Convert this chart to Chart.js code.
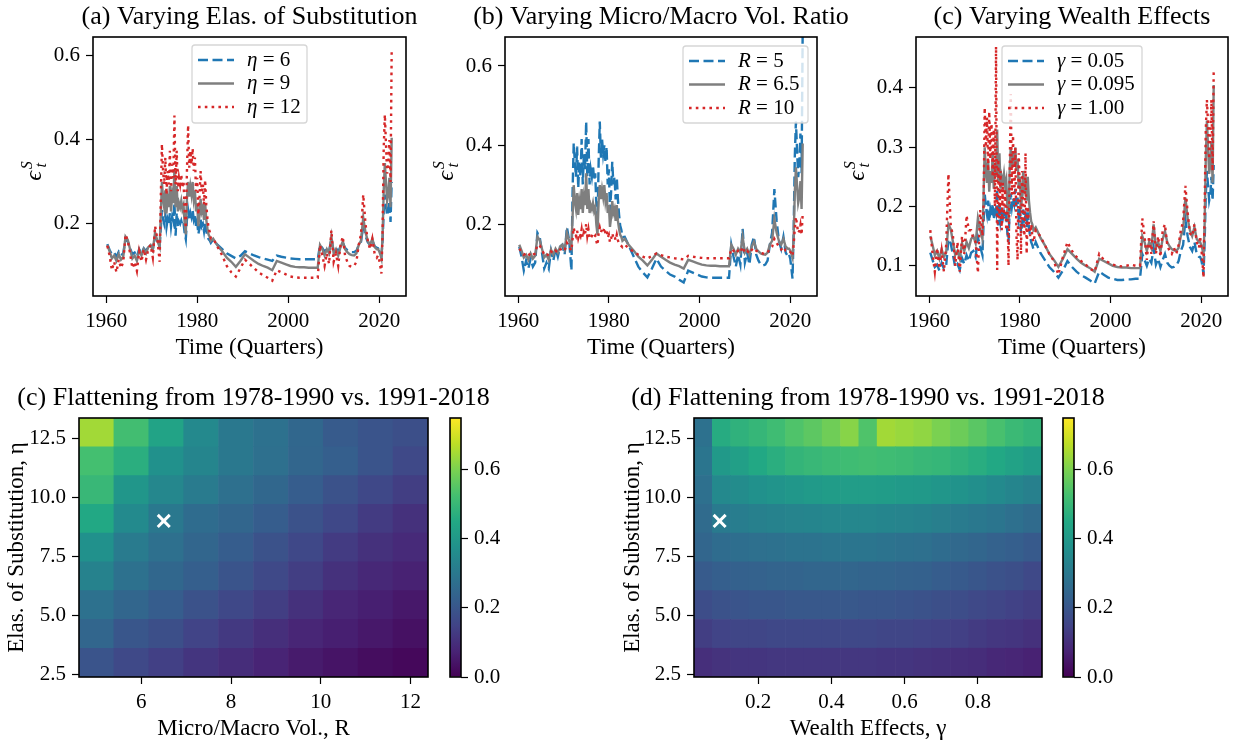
<!DOCTYPE html>
<html>
<head>
<meta charset="utf-8">
<script src="https://cdn.jsdelivr.net/npm/chart.js@4.4.1/dist/chart.umd.min.js"></script>
<style>
  body { margin: 0; background: #fff; }
  #wrap { position: relative; width: 1233px; height: 744px; }
  canvas { position: absolute; left: 0; top: 0; }
</style>
</head>
<body>
<div id="wrap">
  <canvas id="lineA" width="1233" height="744"></canvas>
  <canvas id="lineB" width="1233" height="744"></canvas>
  <canvas id="lineC" width="1233" height="744"></canvas>
  <canvas id="heatR" width="1233" height="744"></canvas>
  <canvas id="heatG" width="1233" height="744"></canvas>
  <canvas id="barR" width="1233" height="744"></canvas>
  <canvas id="barG" width="1233" height="744"></canvas>
</div>
<script>
// quarters used for the time series (denser where the series move a lot)
const years = [
  1960.25, 1960.75, 1961.25, 1961.75, 1962.25, 1962.75, 1963.25, 1963.75, 1964.25, 1964.75, 1965.25, 1965.75,
  1966.25, 1966.75, 1967.25, 1967.75, 1968.25, 1968.75, 1969.25, 1969.75, 1970.25, 1970.75, 1971.25, 1971.75,
  1972, 1972.25, 1972.5, 1972.75, 1973, 1973.25, 1973.5, 1973.75, 1974, 1974.25, 1974.5, 1974.75,
  1975, 1975.25, 1975.5, 1975.75, 1976, 1976.25, 1976.5, 1976.75, 1977, 1977.25, 1977.5, 1977.75,
  1978, 1978.25, 1978.5, 1978.75, 1979, 1979.25, 1979.5, 1979.75, 1980, 1980.25, 1980.5, 1980.75,
  1981, 1981.25, 1981.5, 1981.75, 1982, 1982.25, 1982.5, 1982.75, 1983,
  1983.5, 1984.5, 1985.5, 1986.5, 1987.5, 1988.5, 1989.5, 1990.5, 1991.5, 1992.5, 1993.5, 1994.5,
  1995.5, 1996.5, 1997.5, 1998.5, 1999.5, 2000.5, 2001.5, 2002.5, 2003.5, 2004.5, 2005.5, 2006.5,
  2007, 2007.5, 2008, 2008.5, 2009, 2009.5, 2010, 2010.5, 2011, 2011.5, 2012, 2012.5, 2013,
  2013.5, 2014, 2014.5, 2015, 2015.5, 2016, 2016.5, 2017, 2017.5, 2018, 2018.5, 2019, 2019.5,
  2019.75, 2020, 2020.25, 2020.5, 2020.75, 2021, 2021.25, 2021.5, 2021.75, 2022, 2022.25, 2022.5, 2022.75
];

// baseline (eta = 9, R = 6.5, gamma = 0.095)
const epsBase = [
  .150, .135, .118, .125, .112, .128, .115, .122, .170, .162, .140, .118, .125, .112, .138, .125, .140, .130, .145, .150, .138, .180, .160, .145,
  .220, .300, .260, .240, .280, .225, .260, .240, .290, .230, .270, .250, .330, .240, .290, .230, .250, .240, .255, .235, .245, .200, .175, .260, .300, .265, .290, .270, .300, .260, .280, .230, .250, .195, .220, .260, .230, .240, .210, .250, .210, .190, .175, .170, .160,
  .165, .148, .135, .120, .110, .098, .112, .128, .120, .112, .105, .100, .096, .090, .112, .108, .104, .100, .098, .097, .097, .096, .096, .096,
  .150, .140, .125, .140, .130, .170, .130, .140, .125, .145, .158, .140, .133, .128, .126, .125, .130, .150, .160, .215, .180, .160, .150, .165, .145, .140,
  .140, .135, .128, .118, .170, .280, .345, .300, .255, .270, .310, .240, .405
];
const epsEta6 = [
  .152, .138, .128, .132, .122, .134, .125, .130, .165, .158, .142, .128, .132, .122, .140, .130, .142, .135, .147, .150, .140, .172, .155, .147,
  .189, .233, .211, .200, .222, .192, .211, .200, .226, .194, .217, .206, .250, .172, .227, .194, .206, .200, .208, .197, .202, .178, .164, .211, .233, .213, .227, .216, .233, .211, .222, .194, .206, .176, .189, .211, .194, .200, .183, .206, .183, .172, .164, .161, .155,
  .163, .150, .140, .130, .124, .118, .124, .135, .130, .125, .121, .118, .115, .112, .125, .122, .120, .118, .117, .116, .116, .116, .116, .116,
  .150, .143, .133, .143, .136, .164, .136, .143, .133, .147, .156, .143, .138, .135, .133, .133, .136, .150, .157, .196, .171, .157, .150, .160, .147, .143,
  .142, .138, .132, .125, .160, .230, .270, .245, .220, .230, .255, .205, .300
];
const epsEta12 = [
  .148, .125, .090, .110, .085, .115, .095, .110, .175, .160, .130, .095, .110, .088, .135, .110, .140, .115, .140, .150, .120, .195, .165, .110,
  .262, .390, .326, .294, .358, .270, .326, .294, .374, .278, .342, .310, .458, .294, .374, .278, .310, .294, .318, .286, .302, .230, .190, .326, .435, .334, .374, .342, .380, .326, .358, .278, .310, .222, .262, .326, .278, .294, .246, .305, .246, .214, .190, .182, .166,
  .166, .145, .125, .100, .085, .075, .095, .115, .105, .095, .085, .078, .072, .065, .090, .085, .080, .075, .073, .072, .072, .072, .072, .072,
  .150, .125, .100, .130, .105, .185, .110, .130, .100, .150, .170, .125, .110, .100, .098, .100, .110, .150, .175, .270, .200, .160, .140, .165, .130, .120,
  .125, .115, .100, .082, .180, .380, .460, .390, .320, .340, .400, .300, .610
];
const epsR5 = [
  .145, .120, .085, .110, .090, .115, .095, .105, .180, .170, .130, .090, .105, .090, .135, .110, .140, .120, .145, .150, .125, .195, .160, .085,
  .283, .405, .359, .321, .397, .293, .359, .321, .416, .302, .378, .340, .460, .321, .416, .302, .340, .321, .350, .312, .330, .245, .198, .359, .460, .369, .416, .378, .400, .359, .397, .302, .340, .236, .283, .359, .302, .321, .264, .320, .264, .226, .198, .188, .169,
  .170, .145, .120, .095, .080, .068, .090, .115, .095, .085, .075, .070, .062, .055, .085, .080, .075, .070, .068, .067, .067, .067, .067, .067,
  .150, .120, .095, .125, .100, .190, .105, .130, .100, .150, .170, .125, .110, .100, .098, .100, .110, .150, .180, .290, .210, .160, .140, .170, .130, .120,
  .125, .115, .090, .065, .180, .370, .460, .390, .320, .350, .430, .330, .700
];
const epsR10 = [
  .140, .132, .125, .128, .122, .130, .125, .128, .150, .148, .138, .125, .128, .122, .133, .128, .135, .130, .138, .140, .135, .155, .145, .135,
  .165, .193, .179, .172, .186, .167, .179, .172, .189, .168, .182, .175, .203, .172, .189, .168, .175, .172, .177, .170, .173, .158, .149, .179, .193, .181, .189, .182, .193, .179, .186, .168, .175, .156, .165, .179, .168, .172, .161, .175, .161, .154, .149, .147, .144,
  .150, .140, .132, .125, .120, .115, .122, .128, .124, .120, .118, .116, .115, .113, .122, .120, .118, .117, .116, .116, .116, .116, .116, .116,
  .140, .135, .128, .135, .130, .145, .130, .135, .128, .137, .142, .135, .132, .130, .128, .127, .130, .140, .145, .165, .155, .145, .138, .145, .135, .133,
  .135, .132, .128, .122, .150, .190, .220, .200, .180, .185, .200, .175, .230
];
const epsG005 = [
  .122, .110, .098, .102, .092, .105, .095, .100, .145, .138, .118, .098, .103, .093, .113, .103, .118, .108, .122, .125, .115, .148, .132, .118,
  .172, .222, .200, .187, .210, .175, .195, .185, .205, .178, .200, .190, .230, .168, .205, .175, .188, .180, .190, .178, .185, .155, .140, .195, .222, .200, .215, .205, .230, .200, .215, .180, .192, .155, .170, .195, .178, .185, .165, .190, .165, .150, .140, .135, .128,
  .140, .122, .110, .098, .090, .080, .092, .108, .098, .090, .084, .080, .075, .070, .090, .085, .080, .078, .076, .076, .077, .077, .078, .078,
  .120, .110, .100, .112, .105, .130, .102, .112, .098, .110, .120, .105, .100, .097, .098, .100, .108, .125, .135, .178, .150, .132, .125, .140, .120, .115,
  .115, .110, .100, .085, .140, .220, .260, .235, .210, .220, .250, .210, .270
];
const epsG1 = [
  .160, .120, .090, .130, .095, .125, .090, .135, .255, .170, .150, .100, .140, .090, .150, .120, .185, .160, .160, .145, .140, .088, .194, .150,
  .200, .367, .300, .350, .260, .360, .280, .340, .250, .330, .200, .470, .093, .280, .180, .260, .160, .240, .180, .230, .160, .200, .100, .250, .390, .220, .320, .200, .300, .150, .110, .290, .230, .120, .260, .200, .150, .290, .120, .200, .170, .150, .170, .150, .140,
  .160, .150, .135, .120, .108, .085, .115, .140, .125, .115, .108, .102, .095, .090, .120, .110, .106, .102, .100, .099, .100, .102, .100, .100,
  .180, .150, .110, .150, .120, .175, .120, .150, .115, .160, .170, .135, .125, .120, .130, .120, .135, .160, .175, .235, .190, .155, .150, .170, .140, .130,
  .150, .130, .110, .080, .200, .330, .380, .340, .280, .320, .380, .260, .430
];

// heatmap grids (rows follow etaVals, bottom to top)
const etaVals = [3, 4.219, 5.438, 6.656, 7.875, 9.094, 10.313, 11.531, 12.75];
const rVals = [5, 5.778, 6.556, 7.333, 8.111, 8.889, 9.667, 10.444, 11.222, 12];
const gammaVals = [0.05, 0.1, 0.15, 0.2, 0.25, 0.3, 0.35, 0.4, 0.45, 0.5, 0.55, 0.6, 0.65, 0.7, 0.75, 0.8, 0.85, 0.9, 0.95];
const flatByR = [
  [.195, .165, .140, .115, .095, .075, .055, .040, .025, .015],
  [.245, .200, .180, .150, .125, .100, .080, .065, .050, .035],
  [.280, .245, .220, .190, .160, .135, .105, .080, .065, .050],
  [.330, .280, .250, .225, .195, .165, .135, .105, .085, .070],
  [.375, .310, .275, .245, .220, .190, .160, .130, .105, .090],
  [.450, .355, .300, .265, .245, .220, .190, .160, .130, .105],
  [.500, .390, .345, .310, .275, .250, .220, .190, .160, .135],
  [.525, .470, .375, .340, .300, .275, .245, .225, .195, .165],
  [.645, .520, .435, .350, .300, .280, .250, .215, .195, .180]
];
const flatByGamma = [
  [.100, .110, .115, .115, .120, .120, .120, .120, .120, .120, .115, .115, .110, .105, .100, .095, .085, .080, .070],
  [.135, .150, .155, .155, .160, .160, .160, .160, .160, .160, .155, .155, .150, .145, .140, .130, .120, .115, .105],
  [.175, .190, .195, .200, .200, .205, .205, .205, .205, .200, .200, .195, .190, .180, .175, .165, .155, .145, .135],
  [.215, .225, .230, .235, .240, .240, .245, .245, .245, .240, .240, .235, .230, .220, .210, .200, .190, .180, .165],
  [.245, .265, .270, .275, .280, .285, .285, .290, .290, .290, .285, .280, .275, .265, .255, .245, .235, .225, .210],
  [.260, .305, .315, .325, .330, .335, .340, .345, .345, .345, .340, .335, .330, .320, .310, .300, .290, .275, .260],
  [.275, .350, .360, .375, .385, .395, .405, .410, .415, .415, .410, .405, .400, .390, .380, .370, .355, .340, .325],
  [.290, .400, .420, .450, .470, .490, .500, .510, .515, .520, .515, .510, .500, .495, .480, .465, .450, .430, .410],
  [.280, .460, .480, .495, .515, .540, .560, .585, .615, .540, .645, .635, .625, .600, .580, .555, .530, .505, .490]
];
const VMAX = 0.75;

const FONT = "'Liberation Serif', 'DejaVu Serif', serif";
const BLUE = '#1f77b4', GRAY = '#7f7f7f', RED = '#d62728';
const W = 1233, H = 744;
Chart.defaults.font.family = FONT;
Chart.defaults.color = '#000';

const VIRIDIS = ['#440154', '#482475', '#414487', '#355f8d', '#2a788e', '#21918c',
                 '#22a884', '#44bf70', '#7ad151', '#bddf26', '#fde725'];
function hexRgb(h) { return [1, 3, 5].map(i => parseInt(h.substr(i, 2), 16)); }
function viridis(t) {
  t = Math.max(0, Math.min(1, t));
  const p = t * 10, i = Math.min(9, Math.floor(p)), f = p - i;
  const a = hexRgb(VIRIDIS[i]), b = hexRgb(VIRIDIS[i + 1]);
  return 'rgb(' + a.map((v, k) => Math.round(v + (b[k] - v) * f)).join(',') + ')';
}

const fixTicks = vals => sc => { sc.ticks = vals.map(v => ({ value: v })); };

function axis(min, max, tickVals, fmt, extra) {
  return Object.assign({
    type: 'linear', min: min, max: max,
    afterBuildTicks: fixTicks(tickVals),
    grid: { display: true, drawOnChartArea: false, drawTicks: true, tickLength: 7, tickWidth: 1.2, tickColor: '#000', offset: false },
    border: { display: false },
    ticks: { font: { size: 21 }, color: '#000', padding: 6, maxRotation: 0, autoSkip: false, callback: fmt }
  }, extra);
}

// frame, panel title, epsilon label and legend
const deco = {
  id: 'deco',
  afterDatasetsDraw(chart) {
    const { ctx, chartArea: a } = chart;
    ctx.save();
    ctx.strokeStyle = '#000';
    ctx.lineWidth = 1.6;
    ctx.strokeRect(a.left, a.top, a.right - a.left, a.bottom - a.top);
    ctx.restore();
  },
  afterDraw(chart, args, o) {
    const { ctx, chartArea: a } = chart;
    ctx.save();
    ctx.fillStyle = '#000';
    if (o.title) {
      ctx.font = '26px ' + FONT;
      ctx.textAlign = 'center';
      ctx.textBaseline = 'middle';
      ctx.fillText(o.title, (a.left + a.right) / 2, a.top - 20);
    }
    if (o.eps) {
      ctx.save();
      ctx.translate(a.left - 52, (a.top + a.bottom) / 2);
      ctx.rotate(-Math.PI / 2);
      ctx.textBaseline = 'alphabetic';
      ctx.font = 'italic 24px ' + FONT;
      const w = ctx.measureText('\u03f5').width;
      const x0 = -(w + 9) / 2;
      ctx.fillText('\u03f5', x0, 0);
      ctx.font = 'italic 16px ' + FONT;
      ctx.fillText('S', x0 + w + 1, -9);
      ctx.fillText('t', x0 + w + 1, 5);
      ctx.restore();
    }
    if (o.legend) {
      const L = o.legend;
      const x = a.left + L.dx, y = a.top + L.dy;
      ctx.beginPath();
      ctx.roundRect(x, y, L.w, L.h, 3);
      ctx.fillStyle = 'rgba(255,255,255,0.8)';
      ctx.fill();
      ctx.strokeStyle = 'rgba(204,204,204,0.8)';
      ctx.lineWidth = 1.3;
      ctx.stroke();
      chart.data.datasets.forEach((ds, i) => {
        const yy = y + 15 + i * 23.5;
        ctx.strokeStyle = ds.borderColor;
        ctx.lineWidth = ds.borderWidth;
        ctx.setLineDash(ds.borderDash || []);
        ctx.beginPath();
        ctx.moveTo(x + 6, yy);
        ctx.lineTo(x + 42, yy);
        ctx.stroke();
        ctx.setLineDash([]);
        ctx.fillStyle = '#000';
        ctx.textBaseline = 'middle';
        ctx.textAlign = 'left';
        ctx.font = 'italic 21px ' + FONT;
        const sym = ds.label.charAt(0);
        ctx.fillText(sym, x + 55, yy);
        const sw = ctx.measureText(sym).width;
        ctx.font = '21px ' + FONT;
        ctx.fillText(ds.label.slice(1), x + 55 + sw, yy);
      });
    }
    ctx.restore();
  }
};

const Y_W = 60, X_H = 66;
const AXIS_TITLE_FONT = { size: 23 };

function lineChart(id, area, yMin, yMax, yTicks, title, series, legend) {
  new Chart(document.getElementById(id), {
    type: 'line',
    data: {
      datasets: series.map(s => ({
        label: s.label,
        data: years.map((x, i) => ({ x: x, y: s.values[i] })),
        borderColor: s.color,
        borderWidth: 2.4,
        borderDash: s.dash,
        pointRadius: 0,
        tension: 0,
        fill: false,
        order: s.order
      }))
    },
    options: {
      responsive: false, animation: false, events: [],
      layout: { padding: { left: area[0] - Y_W, top: area[1], right: W - area[2], bottom: H - area[3] - X_H } },
      plugins: { legend: { display: false }, tooltip: { enabled: false },
                 deco: { title: title, eps: true, legend: legend } },
      scales: {
        x: axis(1957.1, 2025.9, [1960, 1980, 2000, 2020], v => String(v), {
          afterFit: sc => { sc.height = X_H; },
          title: { display: true, text: 'Time (Quarters)', font: AXIS_TITLE_FONT, color: '#000', padding: { top: 0, bottom: 0 } }
        }),
        y: axis(yMin, yMax, yTicks, v => v.toFixed(1), { afterFit: sc => { sc.width = Y_W; } })
      }
    },
    plugins: [deco]
  });
}

const BLUE_DASH = [10, 4.5], RED_DOT = [2.6, 4.2];

lineChart('lineA', [93, 37, 406, 296], 0.0286, 0.645, [0.2, 0.4, 0.6], '(a) Varying Elas. of Substitution', [
  { label: '\u03b7 = 6', values: epsEta6, color: BLUE, dash: BLUE_DASH, order: 2 },
  { label: '\u03b7 = 9', values: epsBase, color: GRAY, dash: [], order: 1 },
  { label: '\u03b7 = 12', values: epsEta12, color: RED, dash: RED_DOT, order: 0 }
], { dx: 99, dy: 8, w: 115, h: 78 });

lineChart('lineB', [505, 37, 817, 296], 0.021, 0.673, [0.2, 0.4, 0.6], '(b) Varying Micro/Macro Vol. Ratio', [
  { label: 'R = 5', values: epsR5, color: BLUE, dash: BLUE_DASH, order: 2 },
  { label: 'R = 6.5', values: epsBase, color: GRAY, dash: [], order: 1 },
  { label: 'R = 10', values: epsR10, color: RED, dash: RED_DOT, order: 0 }
], { dx: 178, dy: 9, w: 125, h: 77 });

lineChart('lineC', [916, 37, 1228, 296], 0.049, 0.486, [0.1, 0.2, 0.3, 0.4], '(c) Varying Wealth Effects', [
  { label: '\u03b3 = 0.05', values: epsG005, color: BLUE, dash: BLUE_DASH, order: 2 },
  { label: '\u03b3 = 0.095', values: epsBase, color: GRAY, dash: [], order: 1 },
  { label: '\u03b3 = 1.00', values: epsG1, color: RED, dash: RED_DOT, order: 0 }
], { dx: 86, dy: 9, w: 140, h: 77 });

function heatChart(id, area, yW, xVals, xMin, xMax, xTicks, xFmt, grid, cross, xTitle, title) {
  const half = (etaVals[1] - etaVals[0]) / 2;
  const rows = etaVals.map((eta, r) => ({
    type: 'bar',
    data: xVals.map(x => ({ x: x, y: [eta - half, eta + half] })),
    backgroundColor: grid[r].map(v => viridis(v / VMAX)),
    borderWidth: 0,
    grouped: false,
    barPercentage: 1,
    categoryPercentage: 1,
    order: 1
  }));
  rows.push({
    type: 'scatter', data: [cross], pointStyle: 'crossRot', pointRadius: 8.5,
    borderColor: '#fff', backgroundColor: '#fff', borderWidth: 3, order: 0
  });
  new Chart(document.getElementById(id), {
    type: 'bar',
    data: { datasets: rows },
    options: {
      responsive: false, animation: false, events: [],
      layout: { padding: { left: area[0] - yW, top: area[1], right: W - area[2], bottom: H - area[3] - X_H } },
      plugins: { legend: { display: false }, tooltip: { enabled: false }, deco: { title: title } },
      scales: {
        x: axis(xMin, xMax, xTicks, xFmt, {
          offset: false,
          afterFit: sc => { sc.height = X_H; },
          title: { display: true, text: xTitle, font: AXIS_TITLE_FONT, color: '#000', padding: { top: 0, bottom: 0 } }
        }),
        y: axis(2.391, 13.359, [2.5, 5, 7.5, 10, 12.5], v => v.toFixed(1), {
          afterFit: sc => { sc.width = yW; },
          title: { display: true, text: 'Elas. of Substitution, \u03b7', font: AXIS_TITLE_FONT, color: '#000', padding: { top: 3, bottom: 0 } }
        })
      }
    },
    plugins: [deco]
  });
}

heatChart('heatR', [79, 418, 428, 677], 79, rVals, 4.611, 12.389, [6, 8, 10, 12], v => String(v),
  flatByR, { x: 6.5, y: 9 }, 'Micro/Macro Vol., R', '(c) Flattening from 1978-1990 vs. 1991-2018');
heatChart('heatG', [694, 418, 1042, 677], 78, gammaVals, 0.025, 0.975, [0.2, 0.4, 0.6, 0.8], v => v.toFixed(1),
  flatByGamma, { x: 0.095, y: 9 }, 'Wealth Effects, \u03b3', '(d) Flattening from 1978-1990 vs. 1991-2018');

const CB_W = 45;
function colorBar(id, area) {
  new Chart(document.getElementById(id), {
    type: 'bar',
    data: {
      labels: [''],
      datasets: [{
        data: [[0, VMAX]],
        barPercentage: 1, categoryPercentage: 1, borderWidth: 0,
        backgroundColor: c => {
          const a = c.chart.chartArea;
          if (!a) return VIRIDIS[0];
          const g = c.chart.ctx.createLinearGradient(0, a.bottom, 0, a.top);
          VIRIDIS.forEach((col, i) => g.addColorStop(i / 10, col));
          return g;
        }
      }]
    },
    options: {
      responsive: false, animation: false, events: [],
      layout: { padding: { left: area[0], top: area[1], right: W - area[2] - CB_W, bottom: H - area[3] } },
      plugins: { legend: { display: false }, tooltip: { enabled: false }, deco: {} },
      scales: {
        x: { display: false },
        y: axis(0, VMAX, [0, 0.2, 0.4, 0.6], v => v.toFixed(1), {
          position: 'right',
          afterFit: sc => { sc.width = CB_W; }
        })
      }
    },
    plugins: [deco]
  });
}
colorBar('barR', [450, 418, 461, 677]);
colorBar('barG', [1063, 418, 1074, 677]);
</script>
</body>
</html>
